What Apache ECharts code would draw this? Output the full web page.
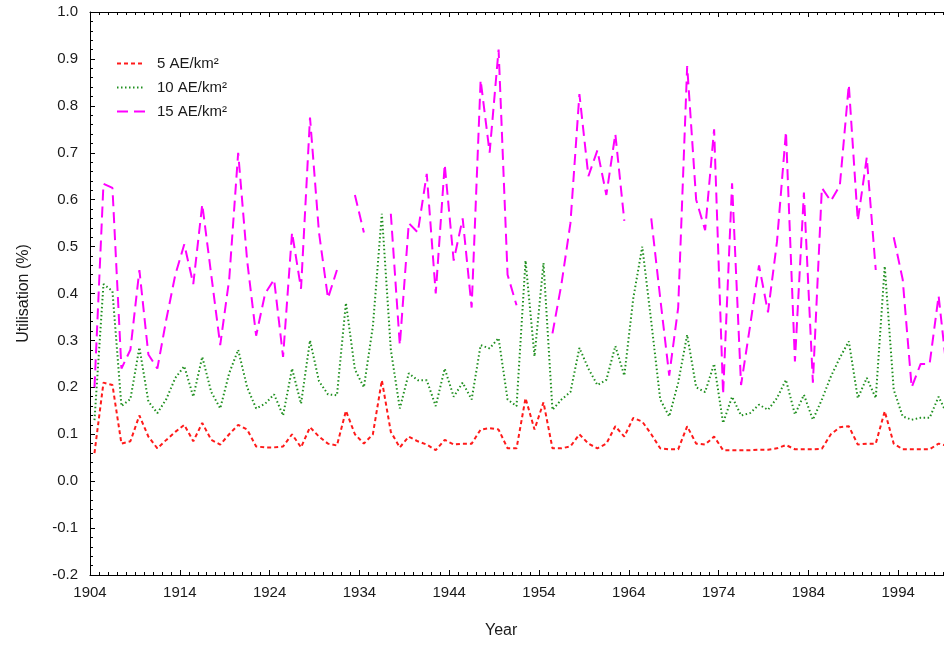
<!DOCTYPE html>
<html>
<head>
<meta charset="utf-8">
<title>Utilisation</title>
<script src="https://cdn.jsdelivr.net/npm/echarts@6/dist/echarts.min.js"></script>
<style>
  html, body { margin: 0; padding: 0; background: #fff; }
  #chart { width: 944px; height: 645px; }
</style>
</head>
<body>
<div id="chart"></div>
<script>
// Annual utilisation (%) for three densities, 1904-1999; null = no value
const firstYear = 1904;
const seriesNames = ['5 AE/km\u00B2', '10 AE/km\u00B2', '15 AE/km\u00B2'];

const util5 = [
  0.06, 0.21, 0.205, 0.08, 0.085, 0.14, 0.095, 0.07, 0.088, 0.105,
  0.12, 0.085, 0.124, 0.088, 0.078, 0.1, 0.12, 0.11, 0.074, 0.072,
  0.072, 0.074, 0.1, 0.072, 0.115, 0.095, 0.08, 0.076, 0.15, 0.1,
  0.08, 0.1, 0.215, 0.105, 0.072, 0.095, 0.085, 0.078, 0.066, 0.088,
  0.078, 0.08, 0.08, 0.11, 0.113, 0.11, 0.07, 0.07, 0.177, 0.11,
  0.168, 0.07, 0.07, 0.074, 0.1, 0.08, 0.07, 0.08, 0.117, 0.095,
  0.135, 0.127, 0.1, 0.07, 0.068, 0.068, 0.117, 0.08, 0.078, 0.095,
  0.066, 0.066, 0.066, 0.066, 0.067, 0.067, 0.07, 0.077, 0.068, 0.068,
  0.068, 0.069, 0.1, 0.115, 0.117, 0.078, 0.08, 0.08, 0.149, 0.08,
  0.068, 0.068, 0.068, 0.068, 0.08, 0.075
];

const util10 = [
  0.13, 0.42, 0.405, 0.16, 0.175, 0.285, 0.17, 0.145, 0.175, 0.22,
  0.245, 0.18, 0.265, 0.19, 0.155, 0.23, 0.28, 0.2, 0.155, 0.165,
  0.185, 0.14, 0.24, 0.165, 0.3, 0.213, 0.185, 0.183, 0.38, 0.238,
  0.2, 0.33, 0.57, 0.28, 0.155, 0.23, 0.215, 0.215, 0.16, 0.24,
  0.18, 0.21, 0.174, 0.29, 0.283, 0.305, 0.174, 0.16, 0.47, 0.266,
  0.465, 0.152, 0.174, 0.19, 0.284, 0.24, 0.205, 0.216, 0.288, 0.225,
  0.39, 0.5, 0.34, 0.174, 0.138, 0.21, 0.312, 0.2, 0.19, 0.25,
  0.124, 0.18, 0.14, 0.145, 0.163, 0.152, 0.177, 0.216, 0.142, 0.184,
  0.131, 0.174, 0.223, 0.263, 0.298, 0.177, 0.22, 0.177, 0.458, 0.195,
  0.138, 0.131, 0.135, 0.135, 0.18, 0.14
];

const util15 = [
  0.2, 0.634, 0.625, 0.24, 0.28, 0.45, 0.27, 0.24, 0.345, 0.44,
  0.505, 0.42, 0.59, 0.44, 0.29, 0.43, 0.70, 0.47, 0.31, 0.4,
  0.43, 0.265, 0.53, 0.41, 0.775, 0.53, 0.39, 0.45, null, 0.61,
  0.53, null, null, 0.57, 0.29, 0.55, 0.53, 0.655, 0.40, 0.675,
  0.47, 0.56, 0.37, 0.855, 0.70, 0.92, 0.44, 0.375, null, null,
  null, 0.315, 0.42, 0.55, 0.825, 0.65, 0.705, 0.61, 0.74, 0.555,
  null, null, 0.56, 0.39, 0.225, 0.37, 0.885, 0.6, 0.535, 0.75,
  0.185, 0.635, 0.205, 0.33, 0.46, 0.36, 0.51, 0.745, 0.255, 0.615,
  0.21, 0.625, 0.597, 0.63, 0.845, 0.555, 0.69, 0.45, null, 0.52,
  0.43, 0.2, 0.25, 0.25, 0.395, 0.22
];

const years = util5.map((_, i) => firstYear + i);

// x axis runs in years since firstYear; each annual value sits mid-year
const toPoints = vals => vals.map((v, i) => [years[i] - firstYear + 0.5, v]);

const textColor = '#1a1a1a';
const font = 'Liberation Sans, Arial, sans-serif';

const styles = [
  { color: '#ff1a1a', type: [4, 3], width: 2 },
  { color: '#1f8f1f', type: [1.5, 2.5], width: 2 },
  { color: '#ff00ff', type: [11, 6], width: 2 }
];

const chart = echarts.init(document.getElementById('chart'), null, { renderer: 'canvas' });

const axisLineStyle = { color: '#000', width: 1 };

chart.setOption({
  animation: false,
  backgroundColor: '#fff',
  textStyle: { fontFamily: font },
  grid: {
    left: 90, top: 12, width: 898, height: 563,
    containLabel: false,
    outerBoundsMode: 'none'
  },
  legend: {
    orient: 'vertical',
    left: 116,
    top: 56,
    padding: 0,
    itemWidth: 28,
    itemHeight: 14,
    itemGap: 9,
    itemStyle: { opacity: 0 },
    textStyle: { fontSize: 15, color: textColor, fontFamily: font, padding: [0, 0, 0, 7] },
    data: seriesNames
  },
  xAxis: [
    {
      type: 'value',
      position: 'bottom',
      min: 0,
      max: 100,
      interval: 10,
      axisLine: { show: true, onZero: false, lineStyle: axisLineStyle },
      axisTick: { show: true, inside: true, length: 5, lineStyle: axisLineStyle },
      minorTick: { show: true, splitNumber: 10, length: 3, lineStyle: axisLineStyle },
      splitLine: { show: false },
      axisLabel: {
        show: true,
        margin: 10,
        fontSize: 15,
        color: textColor,
        showMaxLabel: false,
        formatter: v => String(firstYear + v)
      }
    },
    {
      type: 'value',
      position: 'top',
      min: 0,
      max: 100,
      interval: 10,
      axisLine: { show: true, onZero: false, lineStyle: axisLineStyle },
      axisTick: { show: true, inside: true, length: 5, lineStyle: axisLineStyle },
      minorTick: { show: true, splitNumber: 10, length: 3, lineStyle: axisLineStyle },
      splitLine: { show: false },
      axisLabel: { show: false }
    }
  ],
  yAxis: {
    type: 'value',
    min: -0.2,
    max: 1.0,
    interval: 0.1,
    name: 'Utilisation (%)',
    nameLocation: 'middle',
    nameGap: 58,
    nameRotate: 90,
    nameTextStyle: { fontSize: 16, color: textColor },
    axisLine: { show: true, onZero: false, lineStyle: axisLineStyle },
    axisTick: { show: true, inside: true, length: 5, lineStyle: axisLineStyle },
    minorTick: { show: true, splitNumber: 5, length: 3, lineStyle: axisLineStyle },
    splitLine: { show: false },
    axisLabel: {
      margin: 12,
      fontSize: 15,
      color: textColor,
      formatter: v => v.toFixed(1)
    }
  },
  graphic: [
    {
      type: 'text',
      left: 485,
      top: 623,
      style: { text: 'Year', fontSize: 16, fill: textColor, fontFamily: font }
    }
  ],
  series: [util5, util10, util15].map((vals, k) => ({
    name: seriesNames[k],
    type: 'line',
    xAxisIndex: 0,
    data: toPoints(vals),
    symbol: 'none',
    connectNulls: false,
    color: styles[k].color,
    lineStyle: { color: styles[k].color, width: styles[k].width, type: styles[k].type },
    emphasis: { disabled: true }
  }))
});
</script>
</body>
</html>
